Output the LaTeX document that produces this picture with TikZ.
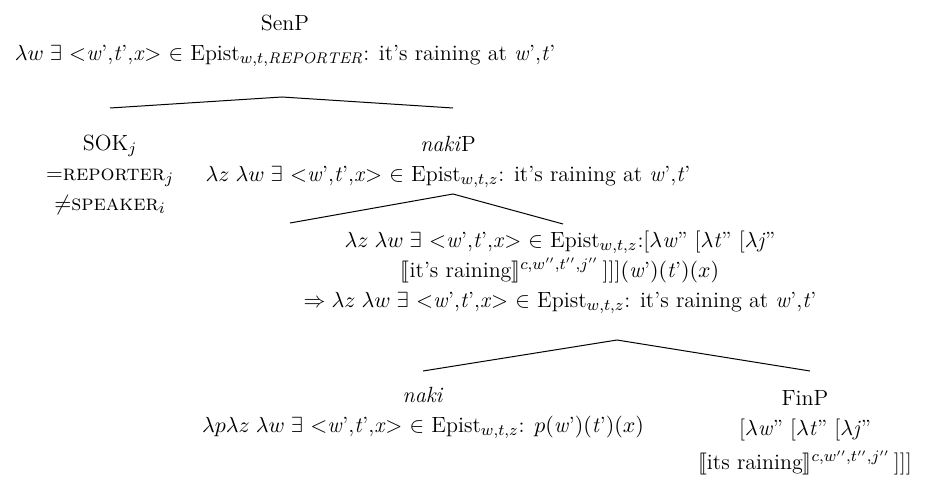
\documentclass[tikz,border=0pt]{standalone}
\usepackage{fontspec}
\usepackage{amssymb}
\usepackage{stmaryrd}
\newcommand\myw{\textit{w}’}
\newcommand\myt{\textit{t}’}
\newcommand\mytrip{$<$\myw,\myt,\textit{x}$>$}
\begin{document}
\begin{tikzpicture}[x=0.5pt,y=-0.5pt,
  every node/.style={align=center,inner sep=0pt,font=\fontsize{11}{15}\selectfont},
  branch/.style={line width=0.5pt}]
\useasboundingbox (0,0) rectangle (929,476);
% nodes
\node (senp) at (285,41) {SenP\\$\lambda w\;\exists$ \mytrip\ $\in$ Epist$_{w,t,\mathit{REPORTER}}$: it’s raining at \myw,\myt};
\node (sok) at (110,175) {SOK$_j$\\=\textsc{reporter}$_j$\\$\neq$\textsc{speaker}$_i$};
\node (nakip) at (448,162) {\textit{naki}P\\$\lambda z\;\lambda w\;\exists$ \mytrip\ $\in$ Epist$_{w,t,z}$: it’s raining at \myw,\myt};
\node (nbar) at (560,272) {$\lambda z\;\lambda w\;\exists$ \mytrip\ $\in$ Epist$_{w,t,z}$:{[}$\lambda$\textit{w}” {[}$\lambda$\textit{t}” {[}$\lambda$\textit{j}”\\
  $\llbracket$it’s raining$\rrbracket^{c,w'',t'',j''}$\,]]]$($\myw$)($\myt$)(x)$\\
  $\Rightarrow\lambda z\;\lambda w\;\exists$ \mytrip\ $\in$ Epist$_{w,t,z}$: it’s raining at \myw,\myt};
\node (naki) at (423,413) {\textit{naki}\\$\lambda p\lambda z\;\lambda w\;\exists$ \mytrip\ $\in$ Epist$_{w,t,z}$: $p($\myw$)($\myt$)(x)$};
\node (finp) at (805,433) {FinP\\{[}$\lambda$\textit{w}” {[}$\lambda$\textit{t}” {[}$\lambda$\textit{j}”\\[2pt]
  $\llbracket$its raining$\rrbracket^{c,w'',t'',j''}$\,]]]};
% branch points
\coordinate (a1) at (282,97);
\coordinate (l1) at (110,108);
\coordinate (r1) at (453,108);
\coordinate (a2) at (453,194);
\coordinate (l2) at (290,223);
\coordinate (r2) at (563,224);
\coordinate (a3) at (617,340);
\coordinate (l3) at (423,371);
\coordinate (r3) at (810,371);
\draw[branch] (l1) -- (a1) -- (r1);
\draw[branch] (l2) -- (a2) -- (r2);
\draw[branch] (l3) -- (a3) -- (r3);
\end{tikzpicture}
\end{document}
